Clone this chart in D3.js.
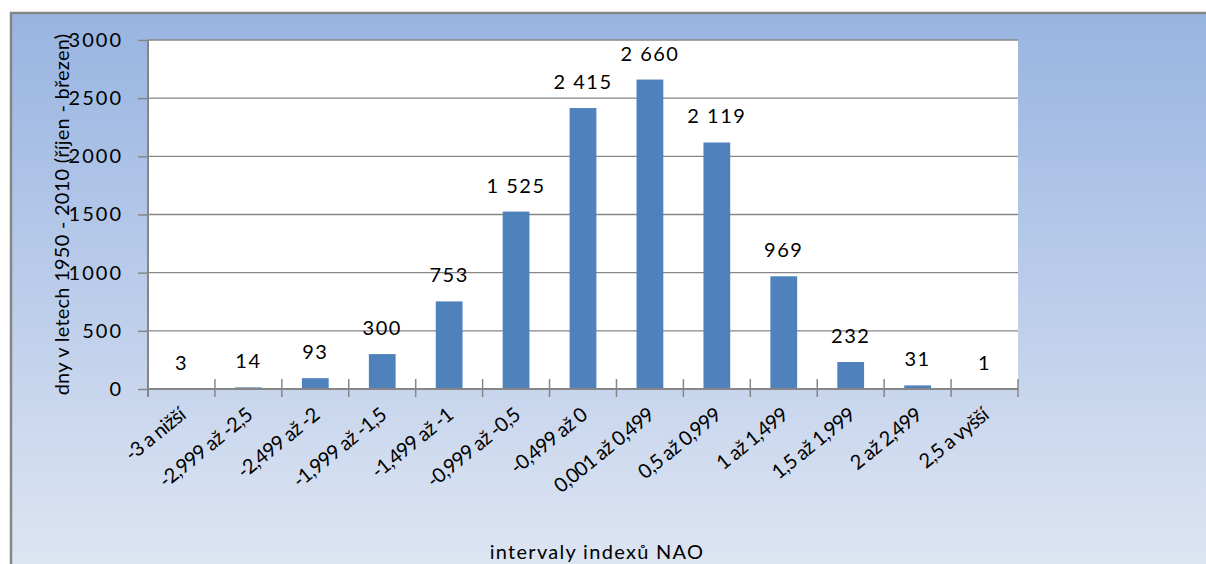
<!DOCTYPE html>
<html>
<head>
<meta charset="utf-8">
<script src="https://cdn.jsdelivr.net/npm/d3@7"></script>
<style>
  html, body { margin: 0; padding: 0; background: #ffffff; }
  svg { display: block; }
  text { font-family: Lato, "Open Sans", sans-serif; fill: #000; }
</style>
</head>
<body>
<svg id="chart" width="1206" height="564"></svg>
<script>
// NAO index intervals and number of days (October - March, 1950 - 2010)
const categories = [
  "-3 a nižší", "-2,999 až -2,5", "-2,499 až -2", "-1,999 až -1,5",
  "-1,499 až -1", "-0,999 až -0,5", "-0,499 až 0", "0,001 až 0,499",
  "0,5 až 0,999", "1 až 1,499", "1,5 až 1,999", "2 až 2,499", "2,5 a vyšší"
];
const days = [3, 14, 93, 300, 753, 1525, 2415, 2660, 2119, 969, 232, 31, 1];
const yTicks = [0, 500, 1000, 1500, 2000, 2500, 3000];
const yTitle = "dny v letech 1950 - 2010 (říjen - březen)";
const xTitle = "intervaly indexů NAO";

const W = 1206, H = 564;
const plot = { left: 148, right: 1018, top: 40, bottom: 389 };
const labelAngle = 39;

const svg = d3.select("#chart");

// background panel with vertical gradient
const defs = svg.append("defs");
const grad = defs.append("linearGradient")
  .attr("id", "bg").attr("x1", 0).attr("y1", 0).attr("x2", 0).attr("y2", 1);
grad.append("stop").attr("offset", "0%").attr("stop-color", "#98b4e1");
grad.append("stop").attr("offset", "100%").attr("stop-color", "#dfe6f3");

svg.append("rect")
  .attr("x", 11).attr("y", 13).attr("width", W).attr("height", H)
  .attr("fill", "url(#bg)")
  .attr("stroke", "#868686").attr("stroke-width", 2.5);

// plot area
svg.append("rect")
  .attr("x", plot.left).attr("y", plot.top)
  .attr("width", plot.right - plot.left).attr("height", plot.bottom - plot.top)
  .attr("fill", "#ffffff");

const x = d3.scaleBand()
  .domain(categories)
  .range([plot.left, plot.right])
  .paddingInner(0.6)
  .paddingOuter(0.3);

const y = d3.scaleLinear()
  .domain([0, 3000])
  .range([plot.bottom, plot.top]);

// horizontal gridlines
svg.append("g")
  .selectAll("line")
  .data(yTicks.filter(d => d > 0))
  .join("line")
  .attr("x1", plot.left).attr("x2", plot.right)
  .attr("y1", d => y(d)).attr("y2", d => y(d))
  .attr("stroke", "#868686").attr("stroke-width", 1.3);

// y axis
const yAxis = svg.append("g")
  .attr("transform", `translate(${plot.left},0)`)
  .call(d3.axisLeft(y).tickValues(yTicks).tickSize(10).tickPadding(15).tickFormat(d3.format("d")));
yAxis.select(".domain").attr("stroke", "#868686").attr("stroke-width", 2)
  .attr("d", `M0,${plot.top}V${plot.bottom + 8}`);
yAxis.selectAll(".tick line").attr("stroke", "#868686").attr("stroke-width", 1.5);
yAxis.selectAll(".tick text")
  .style("font-size", "20px").style("letter-spacing", "2px")
  .attr("fill", "#000");

// bars
svg.append("g")
  .selectAll("rect")
  .data(days)
  .join("rect")
  .attr("x", (d, i) => x(categories[i]))
  .attr("width", x.bandwidth())
  .attr("y", d => y(d))
  .attr("height", d => y(0) - y(d))
  .attr("fill", "#4f81bd");

// data labels with space as thousands separator
const fmt = d3.formatLocale({ decimal: ",", thousands: "\u00a0", grouping: [3], currency: ["", ""] }).format(",d");
svg.append("g")
  .selectAll("text")
  .data(days)
  .join("text")
  .attr("x", (d, i) => x(categories[i]) + x.bandwidth() / 2)
  .attr("y", d => y(d) - 19)
  .attr("text-anchor", "middle")
  .style("font-size", "20px").style("letter-spacing", "1.5px")
  .text(d => fmt(d));

// x axis line and category boundary ticks
const step = x.step();
const x0 = x(categories[0]) - x.paddingOuter() * step;
svg.append("line")
  .attr("x1", plot.left).attr("x2", plot.right)
  .attr("y1", plot.bottom).attr("y2", plot.bottom)
  .attr("stroke", "#868686").attr("stroke-width", 2);
svg.append("g")
  .selectAll("line")
  .data(d3.range(1, categories.length + 1))
  .join("line")
  .attr("x1", k => x0 + k * step).attr("x2", k => x0 + k * step)
  .attr("y1", plot.bottom - 10).attr("y2", plot.bottom + 8)
  .attr("stroke", "#868686").attr("stroke-width", 1.5);

// rotated category labels
svg.append("g")
  .selectAll("text")
  .data(categories)
  .join("text")
  .attr("transform", d => `translate(${x(d) + x.bandwidth() / 2 + 1},${plot.bottom + 23}) rotate(${-labelAngle})`)
  .attr("text-anchor", "end")
  .attr("dy", "0.35em")
  .style("font-size", "20px").style("letter-spacing", "-0.7px")
  .text(d => d);

// axis titles
svg.append("text")
  .attr("transform", `translate(69,${(plot.top + plot.bottom) / 2}) rotate(-90)`)
  .attr("text-anchor", "middle")
  .style("font-size", "20px").style("letter-spacing", "0.25px")
  .text(yTitle);

svg.append("text")
  .attr("x", 597)
  .attr("y", 559)
  .attr("text-anchor", "middle")
  .style("font-size", "20px").style("letter-spacing", "1.3px")
  .text(xTitle);
</script>
</body>
</html>
